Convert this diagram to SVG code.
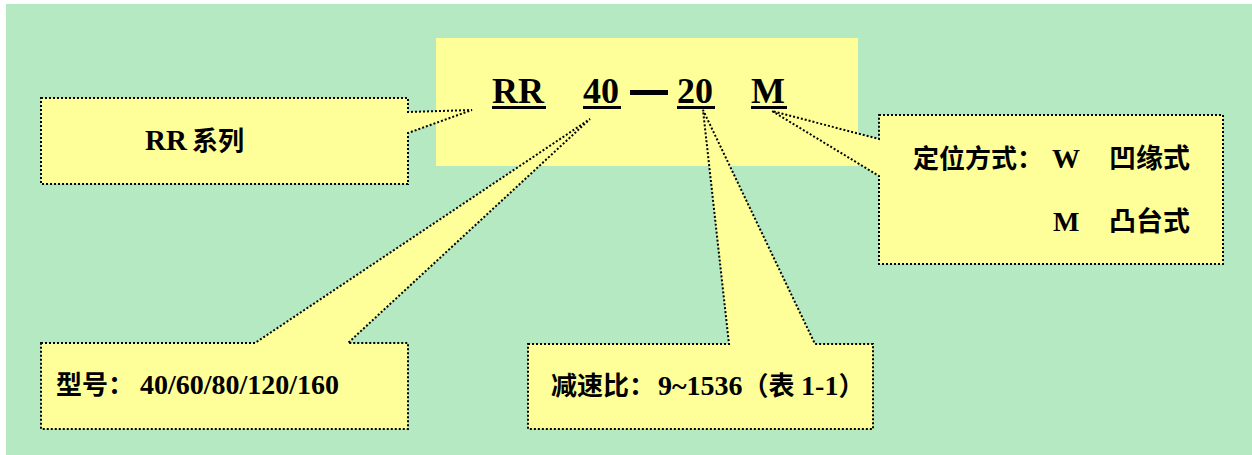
<svg xmlns="http://www.w3.org/2000/svg" width="1252" height="455" viewBox="0 0 1252 455">
<style>
.bg{fill:#B5E9C1}
.box{fill:#FFFF99}
.call{fill:#FFFF99;stroke:#000;stroke-width:2;stroke-dasharray:2 2;stroke-linejoin:miter}
.t{font-family:"Liberation Serif","Noto Sans CJK SC",serif;font-weight:bold;fill:#000}
.big{font-size:36px}
.mid{font-size:27px}
.sm{font-size:26px}
.lat{font-size:28px}
.ul{fill:#000}
</style>
<rect class="bg" x="6" y="4" width="1246" height="451"/>
<g id="code">
<rect class="box" x="436" y="38" width="422" height="128"/>
<text class="t big" x="492" y="103">RR</text>
<rect class="ul" x="492" y="106" width="54" height="3"/>
<text class="t big" x="583" y="103">40</text>
<rect class="ul" x="583" y="106" width="38" height="3"/>
<rect class="ul" x="630" y="90" width="38" height="5"/>
<text class="t big" x="677" y="103">20</text>
<rect class="ul" x="677" y="106" width="38" height="3"/>
<text class="t big" x="751" y="103">M</text>
<rect class="ul" x="751" y="106" width="36" height="3"/>
</g>
<g id="connectors">
</g>
<g id="series">
<path class="call" d="M41,98 H408 V112 L472,110 L408,133 V184 H41 Z"/>
<text class="t sm" x="145" y="150"><tspan class="lat" style="font-size:29px">RR</tspan><tspan x="192">系列</tspan></text>
</g>
<g id="mode">
<path class="call" d="M879,115 H1223 V264 H879 V176 L772,111 L879,139 Z"/>
<text class="t sm" x="913" y="168">定位方式：</text>
<text class="t lat" x="1052" y="168">W</text>
<text class="t mid" x="1109" y="168">凹缘式</text>
<text class="t lat" x="1053" y="231">M</text>
<text class="t mid" x="1109" y="231">凸台式</text>
</g>
<g id="model">
<path class="call" d="M41,343 H255 L590,119 L348,343 H408 V429 H41 Z"/>
<text class="t sm" x="56" y="394">型号：<tspan class="lat" x="140">40/60/80/120/160</tspan></text>
</g>
<g id="ratio">
<path class="call" d="M528,344 H729 L703,110 L815,344 H873 V429 H528 Z"/>
<text class="t sm" x="551" y="395">减速比：<tspan class="lat" x="658">9~1536</tspan>（表 <tspan class="lat">1-1</tspan>）</text>
</g>
</svg>
